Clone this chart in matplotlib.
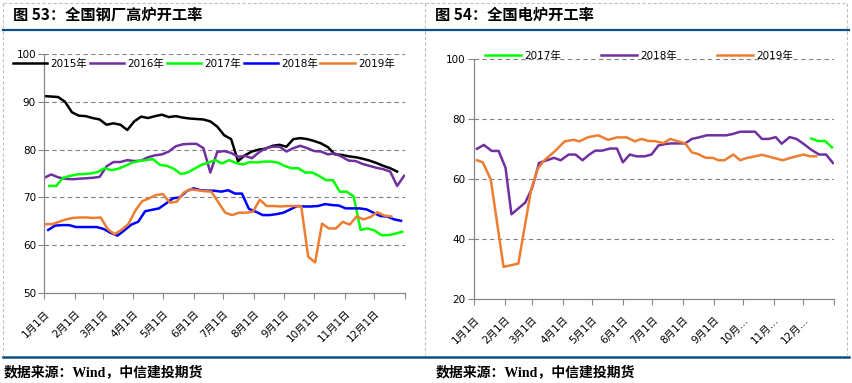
import numpy as np
import matplotlib.pyplot as plt
from matplotlib.lines import Line2D

plt.rcParams['font.family'] = ['DejaVu Sans', 'Noto Sans CJK SC']
plt.rcParams['axes.unicode_minus'] = False

# day-of-year positions of month starts (last one = year end, no label)
month_days = [0, 31, 59, 90, 120, 151, 181, 212, 243, 273, 304, 334, 365]
left_labels = ['1月1日', '2月1日', '3月1日', '4月1日', '5月1日', '6月1日', '7月1日',
               '8月1日', '9月1日', '10月1日', '11月1日', '12月1日', '']
right_labels = ['1月1日', '2月1日', '3月1日', '4月1日', '5月1日', '6月1日', '7月1日',
                '8月1日', '9月1日', '10月…', '11月…', '12月…', '']

# fig 53: blast furnace rate, weekly, (start day, values)
bf_2015_start = 0
bf_2015 = [91.2, 91.1, 91.0, 90.0, 87.8, 87.1, 87.0, 86.6, 86.3, 85.2, 85.5, 85.2, 84.1,
           85.9, 86.9, 86.6, 87.0, 87.3, 86.8, 87.0, 86.7, 86.5, 86.4, 86.3, 85.9, 84.8,
           83.0, 82.2, 77.6, 78.8, 79.6, 80.0, 80.2, 80.8, 81.0, 80.6, 82.2, 82.4, 82.2,
           81.8, 81.3, 80.5, 79.0, 78.9, 78.6, 78.4, 78.1, 77.7, 77.2, 76.6, 76.1, 75.4]
bf_2016_start = 0
bf_2016 = [74.1, 74.8, 74.2, 73.9, 73.8, 73.9, 74.0, 74.1, 74.3, 76.5, 77.4, 77.4, 77.8,
           77.6, 77.7, 78.4, 78.8, 79.0, 79.6, 80.7, 81.1, 81.2, 81.2, 80.3, 75.2, 79.5,
           79.7, 79.3, 78.5, 78.7, 78.2, 79.4, 80.3, 80.6, 80.6, 79.6, 80.3, 80.8, 80.3,
           79.7, 79.6, 79.0, 79.2, 78.5, 77.7, 77.6, 77.0, 76.6, 76.2, 75.9, 75.4, 72.4, 74.5]
bf_2017_start = 5
bf_2017 = [72.4, 72.4, 74.1, 74.5, 74.8, 74.9, 75.0, 75.3, 76.1, 75.7, 76.0, 76.6, 77.3,
           77.6, 77.8, 78.0, 76.8, 76.6, 76.0, 74.9, 75.2, 76.0, 76.8, 77.3, 77.8, 77.1,
           77.8, 77.2, 76.9, 77.4, 77.3, 77.5, 77.5, 77.3, 76.6, 76.1, 76.1, 75.2, 75.2,
           74.5, 73.6, 73.6, 71.2, 71.2, 70.2, 63.2, 63.5, 63.1, 62.1, 62.1, 62.4, 62.8]
bf_2018_start = 4
bf_2018 = [63.2, 64.1, 64.2, 64.2, 63.8, 63.8, 63.8, 63.8, 63.4, 62.6, 62.0, 63.1, 64.3,
           64.9, 67.1, 67.4, 67.7, 68.7, 69.8, 70.0, 71.3, 71.9, 71.5, 71.4, 71.4, 71.2,
           71.5, 70.8, 70.8, 67.6, 67.0, 66.3, 66.3, 66.5, 66.8, 67.5, 68.2, 68.1, 68.1,
           68.2, 68.6, 68.4, 68.3, 67.7, 67.7, 67.7, 67.5, 66.8, 66.1, 66.0, 65.4, 65.1]
bf_2019_start = 1
bf_2019 = [64.4, 64.4, 64.9, 65.4, 65.7, 65.8, 65.8, 65.7, 65.8, 63.4, 62.3, 63.2, 64.4,
           67.2, 69.2, 69.8, 70.5, 70.7, 68.9, 69.1, 71.0, 71.7, 71.5, 71.3, 71.2, 69.0,
           66.8, 66.3, 66.8, 66.8, 67.0, 69.5, 68.2, 68.2, 68.1, 68.2, 68.2, 68.1, 57.6,
           56.4, 64.5, 63.5, 63.5, 64.9, 64.3, 66.0, 65.4, 65.9, 66.9, 66.2, 66.0]

# fig 54: electric furnace rate (irregular dates)
ef_2017_days = [342, 349, 356, 363]
ef_2017 = [73.5, 72.7, 72.7, 70.6]
ef_2018_days = [3, 10, 18, 25, 32, 38, 52, 59, 66, 74, 81, 88, 96, 103, 110, 117, 123,
                130, 138, 145, 151, 158, 165, 173, 180, 187, 194, 200, 207, 214, 221,
                228, 236, 243, 249, 256, 263, 270, 276, 285, 292, 299, 306, 312, 320,
                327, 334, 342, 350, 357, 364]
ef_2018 = [70.1, 71.4, 69.4, 69.4, 63.8, 48.3, 52.2, 57.1, 65.4, 66.3, 67.1, 66.3, 68.2,
           68.2, 66.3, 68.2, 69.5, 69.5, 70.2, 70.2, 65.6, 68.2, 67.6, 67.6, 68.2, 71.2,
           71.7, 71.9, 71.9, 71.9, 73.4, 73.9, 74.6, 74.6, 74.6, 74.6, 75.1, 75.8, 75.8,
           75.8, 73.4, 73.4, 74.0, 71.8, 74.0, 73.4, 71.8, 69.8, 68.2, 68.2, 65.4]
ef_2019_days = [3, 9, 17, 30, 45, 58, 65, 72, 82, 92, 101, 107, 116, 126, 136, 145, 155,
                163, 170, 177, 183, 192, 199, 207, 214, 221, 227, 235, 242, 248, 254,
                263, 270, 276, 285, 292, 298, 305, 313, 320, 327, 334, 341, 347]
ef_2019 = [66.3, 65.6, 59.9, 30.8, 31.9, 56.6, 63.7, 66.5, 69.3, 72.6, 73.1, 72.6, 74.0,
           74.6, 73.1, 73.9, 73.9, 72.6, 73.4, 72.7, 72.7, 72.0, 73.4, 72.6, 72.0, 68.9,
           68.4, 67.1, 67.1, 66.3, 66.3, 68.2, 66.3, 67.0, 67.6, 68.1, 67.6, 67.0, 66.3,
           67.0, 67.6, 68.2, 67.6, 67.6]

c_black = '#000000'
c_purple = '#7030A0'
c_green = '#00FF00'
c_blue = '#0000FF'
c_orange = '#ED7D31'
c_rule = '#0B4F86'
FS = 7.5
LW = 1.8


def weekly(start, vals):
    return start + 7 * np.arange(len(vals))


def style_axes(ax, ylo, yhi, ystep, labels):
    ax.set_xlim(0, 365)
    ax.set_ylim(ylo, yhi)
    ax.set_yticks(np.arange(ylo, yhi + 1, ystep))
    ax.set_xticks(month_days)
    ax.set_xticklabels(labels, rotation=45, ha='right', va='top',
                       rotation_mode='anchor', fontsize=FS)
    ax.tick_params(axis='y', labelsize=FS, length=4, width=0.8, color='#868686', pad=2)
    ax.tick_params(axis='x', length=4, width=0.8, color='#868686', pad=7)
    for s in ['top', 'right']:
        ax.spines[s].set_visible(False)
    for s in ['left', 'bottom']:
        ax.spines[s].set_color('#868686')
        ax.spines[s].set_linewidth(0.9)
    for v in np.arange(ylo + ystep, yhi + 1, ystep):
        ax.axhline(v, color='#808080', lw=0.8, ls=(0, (4, 3)), zorder=0)


fig = plt.figure(figsize=(8.52, 3.83), dpi=100)

# left chart
ax1 = fig.add_axes([0.052, 0.235, 0.4234, 0.624])
ax1.plot(weekly(bf_2015_start, bf_2015), bf_2015, color=c_black, lw=LW, label='2015年')
ax1.plot(weekly(bf_2016_start, bf_2016), bf_2016, color=c_purple, lw=LW, label='2016年')
ax1.plot(weekly(bf_2017_start, bf_2017), bf_2017, color=c_green, lw=LW, label='2017年')
ax1.plot(weekly(bf_2018_start, bf_2018), bf_2018, color=c_blue, lw=LW, label='2018年')
ax1.plot(weekly(bf_2019_start, bf_2019), bf_2019, color=c_orange, lw=LW, label='2019年')
style_axes(ax1, 50, 100, 10, left_labels)
ax1.legend(loc='upper left', bbox_to_anchor=(13 / 852, 1 - 59 / 383),
           bbox_transform=fig.transFigure, ncol=5, frameon=False, fontsize=FS,
           handlelength=3.3, handletextpad=0.3, columnspacing=0.25,
           borderpad=0, borderaxespad=0)

# right chart
ax2 = fig.add_axes([0.5563, 0.2185, 0.4225, 0.6274])
ax2.plot(ef_2017_days, ef_2017, color=c_green, lw=LW, label='2017年')
ax2.plot(ef_2018_days, ef_2018, color=c_purple, lw=LW, label='2018年')
ax2.plot(ef_2019_days, ef_2019, color=c_orange, lw=LW, label='2019年')
style_axes(ax2, 20, 100, 20, right_labels)
ax2.legend(loc='upper left', bbox_to_anchor=(485 / 852, 1 - 51 / 383),
           bbox_transform=fig.transFigure, ncol=3, frameon=False, fontsize=FS,
           handlelength=3.5, handletextpad=0.3, columnspacing=3.8,
           borderpad=0, borderaxespad=0)

# titles
title_font = ['Noto Sans CJK SC']
fig.text(13 / 852, 1 - 15 / 383, '图 53：全国钢厂高炉开工率', fontsize=11,
         fontweight='bold', va='center', family=title_font)
fig.text(435 / 852, 1 - 15 / 383, '图 54：全国电炉开工率', fontsize=11,
         fontweight='bold', va='center', family=title_font)

# rules and dashed panel borders
fig.add_artist(Line2D([3 / 852, 849 / 852], [1 - 30 / 383] * 2, color=c_rule, lw=1.6,
                      transform=fig.transFigure))
fig.add_artist(Line2D([3 / 852, 849 / 852], [1 - 356.5 / 383] * 2, color=c_rule, lw=1.8,
                      transform=fig.transFigure))
for xp in [3, 425, 847]:
    fig.add_artist(Line2D([xp / 852] * 2, [1 - 2.5 / 383, 1 - 355 / 383], color='#C0C0C0',
                          lw=0.8, ls=(0, (3, 2)), transform=fig.transFigure))
fig.add_artist(Line2D([3 / 852, 847 / 852], [1 - 2.5 / 383] * 2, color='#C0C0C0',
                      lw=0.8, ls=(0, (3, 2)), transform=fig.transFigure))

# source notes
src_font = ['Liberation Serif', 'Noto Sans CJK SC']
fig.text(4 / 852, 1 - 372 / 383, '数据来源：Wind，中信建投期货', fontsize=10,
         fontweight='bold', va='center', family=src_font)
fig.text(436 / 852, 1 - 372 / 383, '数据来源：Wind，中信建投期货', fontsize=10,
         fontweight='bold', va='center', family=src_font)

fig.savefig('out.png', dpi=100)
